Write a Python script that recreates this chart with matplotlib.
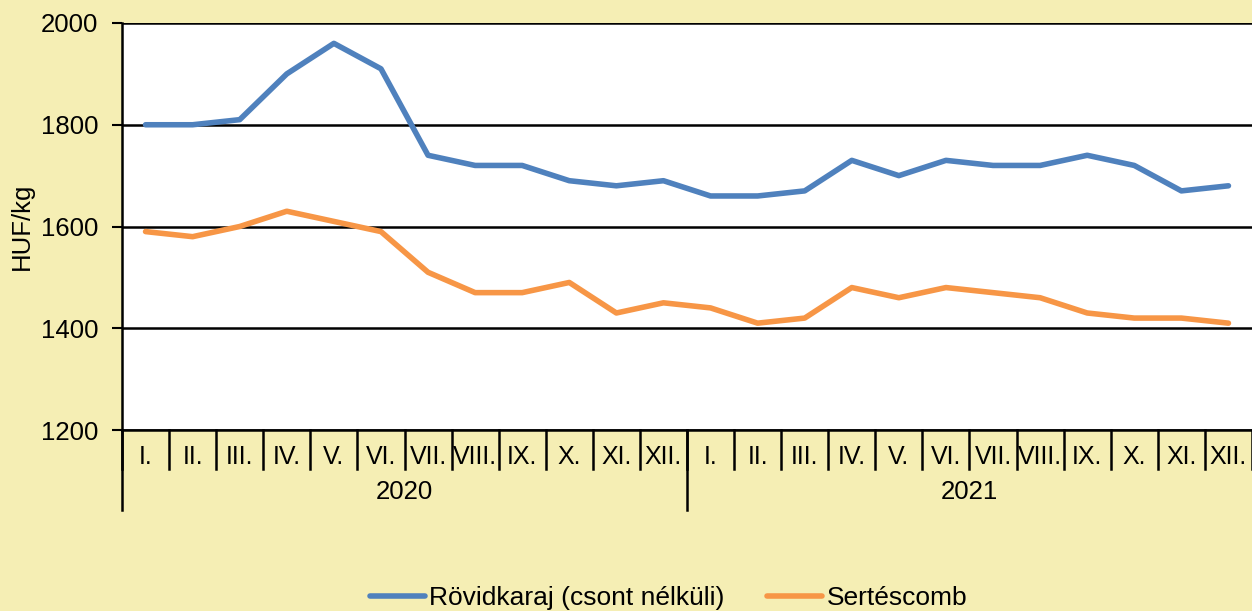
import numpy as np
import matplotlib
matplotlib.use("Agg")
import matplotlib.pyplot as plt

plt.rcParams['font.family'] = ['Liberation Sans', 'DejaVu Sans']

months = ['I.', 'II.', 'III.', 'IV.', 'V.', 'VI.', 'VII.', 'VIII.', 'IX.', 'X.', 'XI.', 'XII.']
years = ['2020', '2021']

rovidkaraj = [1800, 1800, 1810, 1900, 1960, 1910, 1740, 1720, 1720, 1690, 1680, 1690,
              1660, 1660, 1670, 1730, 1700, 1730, 1720, 1720, 1740, 1720, 1670, 1680]
sertescomb = [1590, 1580, 1600, 1630, 1610, 1590, 1510, 1470, 1470, 1490, 1430, 1450,
              1440, 1410, 1420, 1480, 1460, 1480, 1470, 1460, 1430, 1420, 1420, 1410]

bg = '#F5EEB4'
W, H = 1252, 611
fig = plt.figure(figsize=(W / 100, H / 100), dpi=100, facecolor=bg)
ax = fig.add_axes([122 / W, (H - 430) / H, 1130 / W, 407 / H])
ax.set_facecolor('white')

n = len(rovidkaraj)
x = np.arange(n)
ax.plot(x, rovidkaraj, color='#4F81BD', lw=4, solid_capstyle='round',
        label='Rövidkaraj (csont nélküli)', zorder=3)
ax.plot(x, sertescomb, color='#F79646', lw=4, solid_capstyle='round',
        label='Sertéscomb', zorder=3)

ax.set_xlim(-0.5, n - 0.5)
ax.set_ylim(1200, 2000)
ax.set_yticks([1200, 1400, 1600, 1800, 2000])
ax.yaxis.grid(True, color='black', lw=1.8)
ax.set_axisbelow(True)
ax.tick_params(axis='y', labelsize=18.5, length=7, width=1.5, direction='out', pad=10)
ax.set_xticks([])
for s in ['top', 'right']:
    ax.spines[s].set_visible(False)
ax.spines['left'].set_linewidth(1.8)
ax.spines['bottom'].set_linewidth(1.8)
ax.set_ylabel('HUF/kg', fontsize=18.5, labelpad=5)

# multi-level category axis
tr = ax.get_xaxis_transform()
for b in np.arange(n + 1) - 0.5:
    ax.plot([b, b], [0, -0.096], color='black', lw=1.8, transform=tr, clip_on=False)
for i in range(n):
    ax.text(i, -0.066, months[i % 12], ha='center', va='center', fontsize=18, transform=tr)
for k, yr in enumerate(years):
    left = k * 12 - 0.5
    ax.plot([left, left], [0, -0.197], color='black', lw=1.8, transform=tr, clip_on=False)
    ax.text(left + 6, -0.153, yr, ha='center', va='center', fontsize=18.5, transform=tr)

fig.legend(loc='lower center', bbox_to_anchor=(0.534, -0.038), ncol=2, frameon=False,
           fontsize=19, handlelength=2.1, handletextpad=0.15, columnspacing=1.6)

fig.savefig('out.png', dpi=100, facecolor=bg)
